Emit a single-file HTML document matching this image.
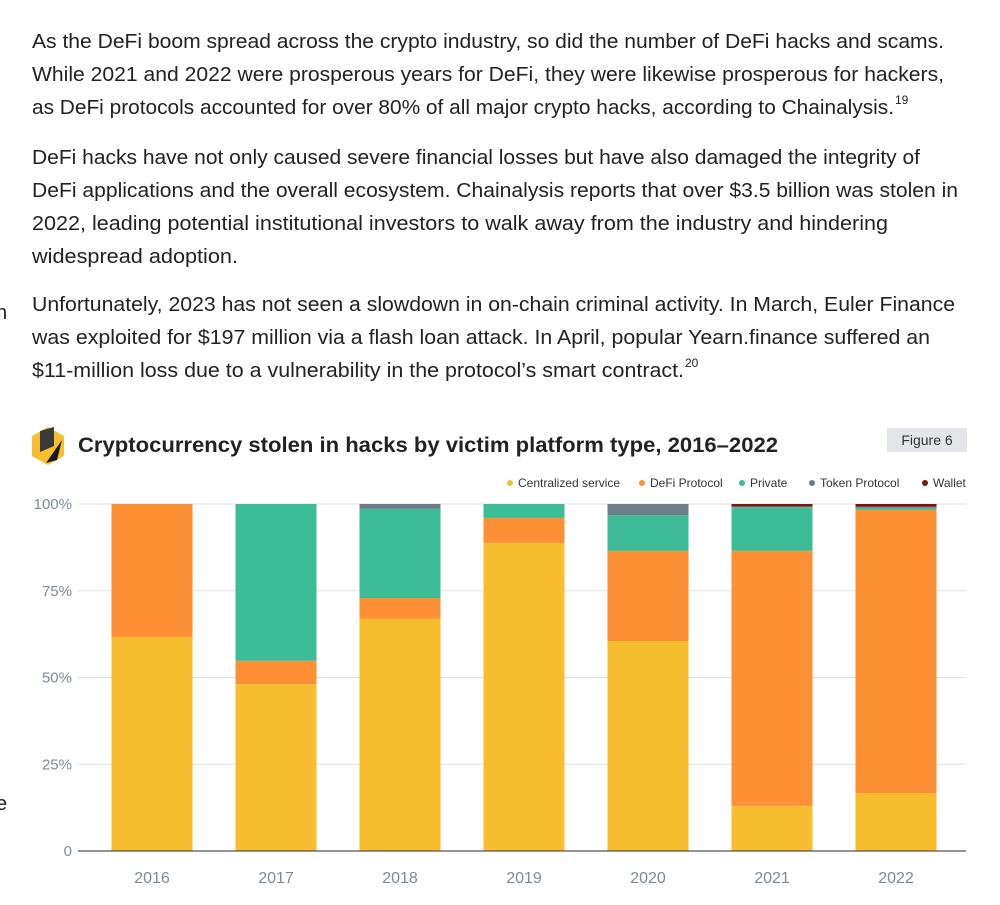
<!DOCTYPE html>
<html><head><meta charset="utf-8"><style>
body{margin:0;background:#fff;width:1000px;height:905px;overflow:hidden}
svg{display:block}
.p{font-family:"Liberation Sans",sans-serif;font-size:20px;fill:#222}
</style></head><body>
<svg id="c" width="1000" height="905" xmlns="http://www.w3.org/2000/svg">
<g>
<text class="p" x="32" y="48" textLength="912" lengthAdjust="spacingAndGlyphs">As the DeFi boom spread across the crypto industry, so did the number of DeFi hacks and scams.</text>
<text class="p" x="32" y="81" textLength="912" lengthAdjust="spacingAndGlyphs">While 2021 and 2022 were prosperous years for DeFi, they were likewise prosperous for hackers,</text>
<text class="p" x="32" y="114" textLength="862" lengthAdjust="spacingAndGlyphs">as DeFi protocols accounted for over 80% of all major crypto hacks, according to Chainalysis.</text>
<text class="p" x="895" y="104" style="font-size:12px">19</text>
<text class="p" x="32" y="164" textLength="888" lengthAdjust="spacingAndGlyphs">DeFi hacks have not only caused severe financial losses but have also damaged the integrity of</text>
<text class="p" x="32" y="197" textLength="926" lengthAdjust="spacingAndGlyphs">DeFi applications and the overall ecosystem. Chainalysis reports that over $3.5 billion was stolen in</text>
<text class="p" x="32" y="230" textLength="856" lengthAdjust="spacingAndGlyphs">2022, leading potential institutional investors to walk away from the industry and hindering</text>
<text class="p" x="32" y="263" textLength="206" lengthAdjust="spacingAndGlyphs">widespread adoption.</text>
<text class="p" x="32" y="311" textLength="923" lengthAdjust="spacingAndGlyphs">Unfortunately, 2023 has not seen a slowdown in on-chain criminal activity. In March, Euler Finance</text>
<text class="p" x="32" y="344" textLength="898" lengthAdjust="spacingAndGlyphs">was exploited for $197 million via a flash loan attack. In April, popular Yearn.finance suffered an</text>
<text class="p" x="32" y="377" textLength="652" lengthAdjust="spacingAndGlyphs">$11-million loss due to a vulnerability in the protocol’s smart contract.</text>
<text class="p" x="685" y="367" style="font-size:12px">20</text>
<text class="p" x="-4" y="319">n</text>
<text class="p" x="-4" y="346" style="font-size:14px">f</text>
<text class="p" x="-4" y="810">e</text>
</g>
<g>
<polygon points="48,427 64,436 64,456 48,465 32,456 32,436" fill="#f7be2e"/>
<polygon points="40,431 54,427 54,446 40,452" fill="#3a3a3a"/>
<polygon points="46,463 62,440 57,460" fill="#1a1a1a"/>
</g>
<text x="78" y="452" style="font-family:'Liberation Sans',sans-serif;font-weight:bold;font-size:21px;fill:#222" textLength="700" lengthAdjust="spacingAndGlyphs">Cryptocurrency stolen in hacks by victim platform type, 2016–2022</text>
<rect x="887" y="428" width="80" height="24" fill="#e3e5e8"/>
<text x="927" y="445" text-anchor="middle" style="font-family:'Liberation Sans',sans-serif;font-size:14px;fill:#333">Figure 6</text>
<g id="legend"></g>
<g id="grid"></g>
<g id="bars"></g>
<g id="axis"></g>
</svg>
<script>
const years=["2016","2017","2018","2019","2020","2021","2022"];
const centralized=[61.7,48.1,66.9,88.8,60.5,13.0,16.7];
const defi=[38.3,6.7,6.0,7.2,26.0,73.5,81.6];
const privateS=[0,45.2,25.7,4.0,10.3,12.6,0.6];
const token=[0,0,1.4,0,3.2,0.2,0.3];
const wallet=[0,0,0,0,0,0.7,0.8];
const yTicks=[0,25,50,75,100];
const yTickLabels=["0","25%","50%","75%","100%"];
const seriesNames=["Centralized service","DeFi Protocol","Private","Token Protocol","Wallet"];
const colors=["#f8bd2f","#fd8f35","#3cbd98","#6f7c86","#7d1412"];
const series=[centralized,defi,privateS,token,wallet];
const NS="http://www.w3.org/2000/svg";
const y0=851,y1=504,xL=78,xR=966,x0=152,step=124,bw=81;
const Y=v=>y0-(v/100)*(y0-y1);
const X=i=>x0+i*step;
function mk(t,a,p){const e=document.createElementNS(NS,t);for(const k in a)e.setAttribute(k,a[k]);p.appendChild(e);return e;}
const grid=document.getElementById('grid'),bars=document.getElementById('bars'),axis=document.getElementById('axis'),leg=document.getElementById('legend');
yTicks.forEach((t,j)=>{
 const l=mk('line',{x1:xL,x2:xR,y1:Y(t),y2:Y(t),stroke:t===0?'#555':'#dde1e4','stroke-width':t===0?1.2:1},t===0?axis:grid);
 
 
 const tx=mk('text',{x:72,y:Y(t)+5,'text-anchor':'end','font-family':'Liberation Sans,sans-serif','font-size':15,fill:'#7d8a96'},axis);
 tx.textContent=yTickLabels[j];
 
 
});
years.forEach((yr,i)=>{
 let acc=0;
 series.forEach((s,k)=>{
  const v=s[i];if(v<=0){return;}
  const r=mk('rect',{x:X(i)-bw/2,y:Y(acc+v),width:bw,height:Y(acc)-Y(acc+v),fill:colors[k]},bars);
  
  
  acc+=v;
 });
 const tx=mk('text',{x:X(i),y:883,'text-anchor':'middle','font-family':'Liberation Sans,sans-serif','font-size':16,fill:'#7d8a96'},axis);
 tx.textContent=yr;
 
 
});
const lx=[510,642,742,812,925];
seriesNames.forEach((n,k)=>{
 const g=mk('g',{},leg);
 
 
 mk('circle',{cx:lx[k],cy:483,r:3,fill:colors[k]},g);
 const t=mk('text',{x:lx[k]+8,y:487,'font-family':'Liberation Sans,sans-serif','font-size':12,fill:'#333'},g);
 t.textContent=n;
});
</script>
</body></html>
